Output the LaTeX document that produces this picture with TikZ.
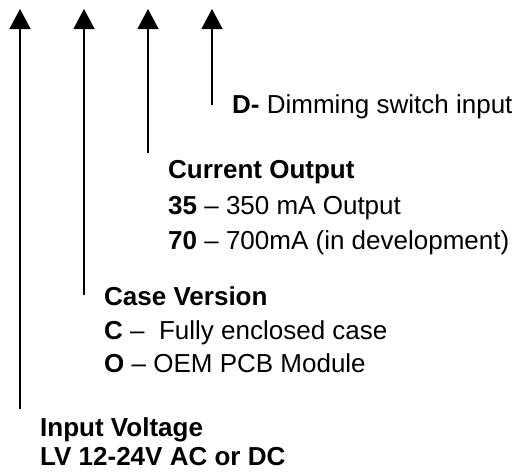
\documentclass[tikz,border=0pt]{standalone}
\usepackage{fontspec}
\setmainfont{Liberation Sans}
\usetikzlibrary{arrows.meta}

\begin{document}
\begin{tikzpicture}[x=1pt,y=-1pt,font=\fontsize{26}{31}\selectfont]
\path[use as bounding box] (0,0) rectangle (521,475);
% arrow tips and the lower ends of the lines
\coordinate (tipLV) at (20,9);   \coordinate (endLV) at (20,409);
\coordinate (tipCase) at (84,9); \coordinate (endCase) at (84,295);
\coordinate (tipCur) at (148,9); \coordinate (endCur) at (148,153);
\coordinate (tipDim) at (212,9); \coordinate (endDim) at (212,105);
\draw[line width=1.5pt,-{Triangle[length=20pt,width=21pt]}] (endLV) -- (tipLV);
\draw[line width=1.5pt,-{Triangle[length=20pt,width=21pt]}] (endCase) -- (tipCase);
\draw[line width=1.5pt,-{Triangle[length=20pt,width=21pt]}] (endCur) -- (tipCur);
\draw[line width=1.5pt,-{Triangle[length=20pt,width=21pt]}] (endDim) -- (tipDim);
% dimming
\node[anchor=base west,inner sep=0pt] (dim) at (232,113) {\textbf{D-} Dimming switch input};
% current output
\node[anchor=base west,inner sep=0pt] (cur) at (168,178) {\textbf{Current Output}};
\node[anchor=base west,inner sep=0pt] (cur35) at (168,214) {\textbf{35} – 350 mA Output};
\node[anchor=base west,inner sep=0pt] (cur70) at (168,249) {\textbf{70} – 700mA (in development)};
% case version
\node[anchor=base west,inner sep=0pt] (case) at (104,305) {\textbf{Case Version}};
\node[anchor=base west,inner sep=0pt] (caseC) at (104,339) {\textbf{C} –\ \ Fully enclosed case};
\node[anchor=base west,inner sep=0pt] (caseO) at (104,372) {\textbf{O} – OEM PCB Module};
% input voltage
\node[anchor=base west,inner sep=0pt] (lv) at (40,436) {\textbf{Input Voltage}};
\node[anchor=base west,inner sep=0pt] (lvRange) at (40,465) {\textbf{LV 12-24V AC or DC}};
\end{tikzpicture}
\end{document}
